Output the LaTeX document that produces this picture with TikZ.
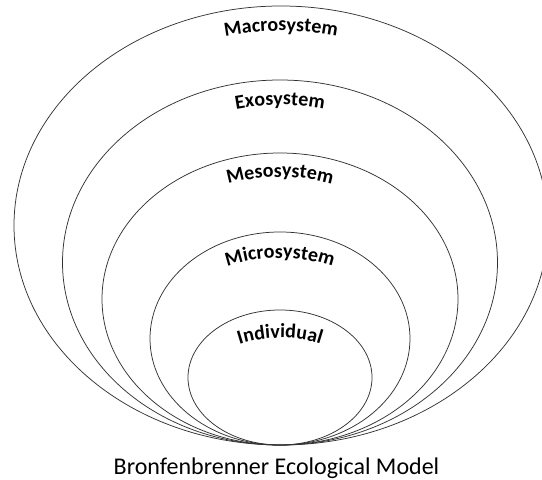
\documentclass[tikz,border=0pt]{standalone}
\usepackage{fontspec}
\setmainfont{Carlito}
\usetikzlibrary{decorations.text}
\begin{document}
\begin{tikzpicture}[x=1pt,y=1pt,
  ring/.style={draw=black!80, line width=0.75pt},
  lbl/.style={decorate, decoration={text along path, text align=center,
     text={|\bfseries\fontsize{20}{20}\selectfont|#1}}},
  caption/.style={font=\fontsize{24}{24}\selectfont, anchor=base, inner sep=0pt}]
\useasboundingbox (0,0) rectangle (542,480);
\clip (0,0) rectangle (542,480);
% rings
\draw[ring] (281,254.5) ellipse [x radius=267, y radius=219.5];
\draw[ring] (280,217.5) ellipse [x radius=217.5, y radius=182.5];
\draw[ring] (280,181) ellipse [x radius=178, y radius=146];
\draw[ring] (280,141.5) ellipse [x radius=130, y radius=106.5];
\draw[ring] (280,102.5) ellipse [x radius=92, y radius=67.5];
% curved labels
\path[lbl=Macrosystem] (281,254.5) ++(180:242 and 194.5) arc[start angle=180, end angle=0, x radius=242, y radius=194.5];
\path[lbl=Exosystem] (280,217.5) ++(180:192.5 and 157.5) arc[start angle=180, end angle=0, x radius=192.5, y radius=157.5];
\path[lbl=Mesosystem] (280,181) ++(180:154 and 122) arc[start angle=180, end angle=0, x radius=154, y radius=122];
\path[lbl=Microsystem] (280,137) ++(180:120 and 85) arc[start angle=180, end angle=0, x radius=120, y radius=85];
\path[lbl=Individual] (280,97) ++(180:80 and 45) arc[start angle=180, end angle=0, x radius=80, y radius=45];
% caption
\node[caption] (cap) at (276.5,5) {Bronfenbrenner Ecological Model};
\end{tikzpicture}
\end{document}
